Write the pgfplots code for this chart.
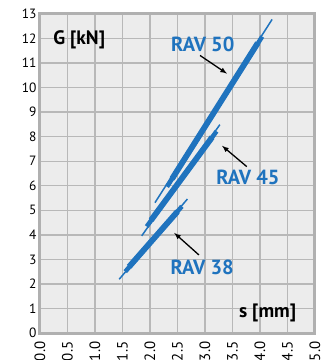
\documentclass[border=0pt]{standalone}
\usepackage{pgfplots}
\pgfplotsset{compat=1.18}
\usepackage{fontspec}
\setmainfont{PT Sans}
\definecolor{bg}{HTML}{ECECEC}
\definecolor{gridc}{HTML}{B8B8B8}
\definecolor{framec}{HTML}{B0B0B0}
\definecolor{ravblue}{HTML}{1F73BE}
\begin{document}
\begin{tikzpicture}
\begin{axis}[
  scale only axis,
  width=275bp, height=319bp,
  xmin=0, xmax=5, ymin=0, ymax=13,
  xtick={0,0.5,...,5.0},
  xticklabels={0.0,0.5,1.0,1.5,2.0,2.5,3.0,3.5,4.0,4.5,5.0},
  ytick={0,1,...,13},
  xticklabel style={rotate=90, anchor=east, font=\fontsize{15}{15}\selectfont, xshift=-5bp},
  yticklabel style={font=\fontsize{13.5}{13.5}\selectfont},
  /pgf/number format/assume math mode=true,
  grid=major,
  major grid style={gridc, line width=1.4bp},
  axis line style={framec, line width=3bp},
  axis background/.style={fill=bg},
  tick style={draw=none},
  clip=false,
]
% RAV 50
\addplot[ravblue, line width=1.5bp] coordinates {(2.09,5.31) (4.22,12.78)};
\addplot[ravblue, line width=4.5bp] coordinates {(2.31,5.96) (4.04,12.08)};
\addplot[ravblue, line width=5.8bp] coordinates {(2.40,6.28) (3.96,11.82)};
% RAV 45
\addplot[ravblue, line width=1.5bp] coordinates {(1.85,3.96) (3.27,8.49)};
\addplot[ravblue, line width=4.5bp] coordinates {(1.94,4.34) (3.21,8.22)};
\addplot[ravblue, line width=5.8bp] coordinates {(2.02,4.60) (3.13,7.98)};
% RAV 38
\addplot[ravblue, line width=1.5bp] coordinates {(1.44,2.19) (2.68,5.46)};
\addplot[ravblue, line width=4.5bp] coordinates {(1.55,2.50) (2.58,5.16)};
\addplot[ravblue, line width=5.8bp] coordinates {(1.62,2.70) (2.50,4.95)};
% arrows
\addplot[black, line width=1.3bp, -latex] coordinates {(2.91,11.31) (3.40,10.57)};
\addplot[black, line width=1.3bp, -latex] coordinates {(3.76,6.78) (3.31,7.63)};
\addplot[black, line width=1.3bp, -latex] coordinates {(2.89,3.18) (2.44,4.08)};
% labels
\node[anchor=west, font=\fontsize{19.5}{19.5}\selectfont\bfseries] at (axis cs:0.18,11.96) {G [kN]};
\node[anchor=east, font=\fontsize{19.5}{19.5}\selectfont\bfseries] at (axis cs:4.72,0.82) {s [mm]};
\node[ravblue, font=\fontsize{20.5}{20.5}\selectfont\bfseries] at (axis cs:2.96,11.76) {RAV 50};
\node[ravblue, font=\fontsize{20.5}{20.5}\selectfont\bfseries] at (axis cs:3.78,6.33) {RAV 45};
\node[ravblue, font=\fontsize{20.5}{20.5}\selectfont\bfseries] at (axis cs:2.95,2.69) {RAV 38};
\end{axis}
\pgfresetboundingbox
\path (current axis.south west) ++(-40bp,-27bp) coordinate (bbA);
\path (current axis.north east) ++(14bp,14bp) coordinate (bbB);
\useasboundingbox (bbA) rectangle (bbB);
\end{tikzpicture}
\end{document}
